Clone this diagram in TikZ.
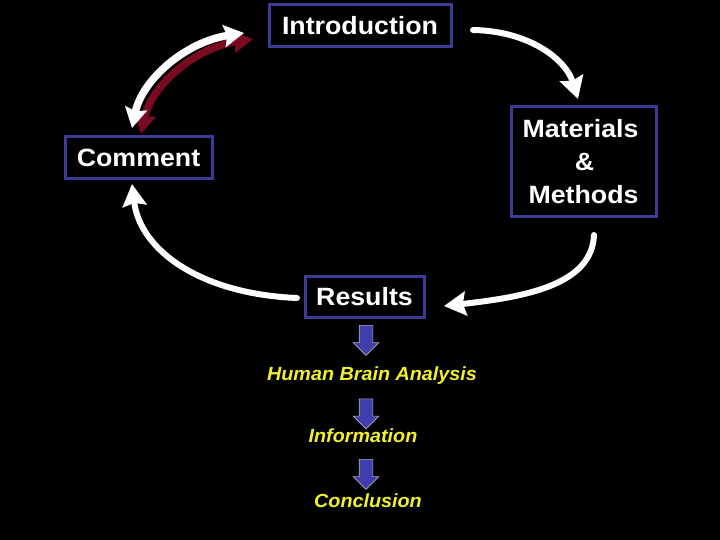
\documentclass[tikz,border=0pt]{standalone}
\usepackage{fontspec}
\setmainfont{Liberation Sans}
\usetikzlibrary{arrows.meta,shapes.arrows}
\definecolor{boxblue}{RGB}{60,60,150}
\definecolor{arrowblue}{RGB}{62,62,172}
\definecolor{txtyellow}{RGB}{242,240,40}
\definecolor{shadowred}{RGB}{122,10,32}
\newfontfamily\boxfont[FakeStretch=1.07]{Liberation Sans Bold}
\newfontfamily\yelfont[FakeStretch=1.04]{Liberation Sans Bold Italic}
\tikzset{
  stagebox/.style={draw=boxblue,line width=3pt,fill=black,text=white,
    font=\boxfont\fontsize{25}{33}\selectfont,inner sep=0pt,align=center},
  yeltext/.style={text=txtyellow,font=\yelfont\fontsize{19}{23}\selectfont,inner sep=0pt},
  downarrow/.style={single arrow,draw=gray!60,line width=0.6pt,fill=arrowblue,
    minimum height=30pt,inner xsep=0pt,inner ysep=6.5pt,
    single arrow head extend=6pt,rotate=-90},
  flow/.style={draw=white,line width=6pt,line cap=round,
    -{Stealth[length=22pt,width=24pt,inset=3pt]}},
  twoway/.style={line width=7.5pt,
    {Stealth[length=20pt,width=22pt,inset=3pt]}-{Stealth[length=20pt,width=22pt,inset=3pt]}}
}
\begin{document}
\begin{tikzpicture}[x=1pt,y=-1pt]
\fill[black] (0,0) rectangle (720,540);
\useasboundingbox (0,0) rectangle (720,540);

\node[stagebox,minimum width=182pt,minimum height=42pt] (intro) at (360,26) {Introduction};
\node[stagebox,minimum width=145pt,minimum height=110pt] (mat) at (583.5,162) {Materials\hspace*{6pt}\\\hspace*{2pt}\&\\Methods};
\node[stagebox,minimum width=147pt,minimum height=42pt] (comm) at (138.5,158) {Comment};
\node[stagebox,minimum width=119pt,minimum height=41pt] (res) at (364.5,296.5) {Results};

\node[yeltext] (hba) at (372,376) {Human Brain Analysis};
\node[yeltext] (info) at (363,436) {Information};
\node[yeltext] (conc) at (368,501) {Conclusion};

\node[downarrow] (d1) at (366,337) {};
\node[downarrow] (d2) at (366,410.5) {};
\node[downarrow] (d3) at (366,471) {};

% connectors
\coordinate (a1s) at (473,30);
\coordinate (a1e) at (578,99);
\draw[flow] (a1s) .. controls (530,31) and (566,60) .. (a1e);

\coordinate (a2s) at (594,235);
\coordinate (a2e) at (444,306);
\draw[flow] (a2s) .. controls (592,285) and (525,297) .. (a2e);

\coordinate (a3s) at (297,298);
\coordinate (a3e) at (132,184);
\draw[flow] (a3s) .. controls (200,294) and (140,250) .. (a3e);

\coordinate (a4s) at (132,128);
\coordinate (a4e) at (244,33);
\draw[twoway,draw=shadowred] ([shift={(9,6)}]a4s) .. controls (151,86) and (194,48) .. ([shift={(9,6)}]a4e);
\draw[twoway,draw=white] (a4s) .. controls (142,80) and (185,42) .. (a4e);
\end{tikzpicture}
\end{document}
